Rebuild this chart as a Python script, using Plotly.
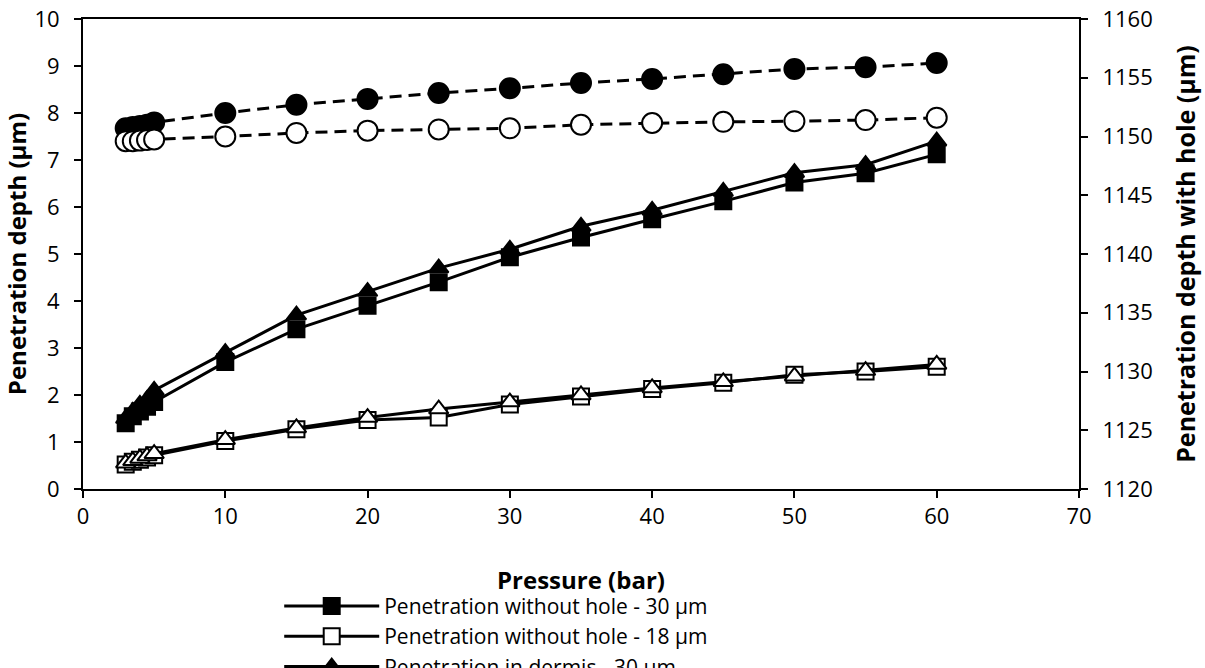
import plotly.graph_objects as go

pressure = [3, 3.5, 4, 4.5, 5, 10, 15, 20, 25, 30, 35, 40, 45, 50, 55, 60]

no_hole_30 = [1.4, 1.55, 1.65, 1.75, 1.85, 2.7, 3.4, 3.9, 4.4, 4.93, 5.35, 5.74, 6.12, 6.52, 6.72, 7.12]
no_hole_18 = [0.52, 0.58, 0.62, 0.67, 0.72, 1.02, 1.27, 1.47, 1.52, 1.8, 1.97, 2.13, 2.26, 2.43, 2.5, 2.6]
dermis_30 = [1.5, 1.65, 1.8, 1.9, 2.1, 2.9, 3.7, 4.2, 4.7, 5.1, 5.59, 5.93, 6.33, 6.73, 6.9, 7.4]
dermis_18 = [0.55, 0.6, 0.65, 0.7, 0.75, 1.05, 1.3, 1.52, 1.7, 1.85, 2.0, 2.15, 2.28, 2.4, 2.52, 2.65]
hole_30 = [1150.7, 1150.8, 1150.9, 1151.0, 1151.2, 1152.0, 1152.7, 1153.2, 1153.7, 1154.1,
           1154.55, 1154.9, 1155.3, 1155.75, 1155.9, 1156.25]
hole_18 = [1149.6, 1149.6, 1149.65, 1149.7, 1149.75, 1150.0, 1150.3, 1150.5, 1150.6, 1150.7,
           1151.0, 1151.15, 1151.25, 1151.3, 1151.4, 1151.6]

names = ["Penetration without hole - 30 µm", "Penetration without hole - 18 µm",
         "Penetration in dermis - 30 µm", "Penetration in dermis - 18 µm",
         "Penetration with hole - 30 µm", "Penetration with hole - 18 µm"]

FONT = "Open Sans"
fig = go.Figure()

def add(y, name, symbol, filled, size, dash="solid", yaxis="y", legend=True):
    fig.add_trace(go.Scatter(
        x=pressure, y=y, name=name, mode="lines+markers", yaxis=yaxis,
        showlegend=legend,
        line=dict(color="black", width=3, dash=dash),
        marker=dict(symbol=symbol, size=size,
                    color="black" if filled else "white",
                    line=dict(color="black", width=2)),
    ))

add(no_hole_30, names[0], "square", True, 16)
add(no_hole_18, names[1], "square", False, 16)
add(dermis_30, names[2], "triangle-up", True, 17)
add(dermis_18, names[3], "triangle-up", False, 17, legend=False)
add(hole_30, names[4], "circle", True, 20, dash="12px,7px", yaxis="y2", legend=False)
add(hole_18, names[5], "circle", False, 20, dash="12px,7px", yaxis="y2", legend=False)

axis_common = dict(showline=True, linecolor="black", linewidth=2, ticks="outside",
                   tickcolor="black", ticklen=7, tickwidth=2, showgrid=False,
                   zeroline=False, automargin=True, ticklabeloverflow="allow",
                   tickfont=dict(family=FONT, size=22, color="black"))
TITLE_FONT = dict(family=FONT, size=24, color="black")

fig.update_layout(
    width=1205, height=668,
    paper_bgcolor="white", plot_bgcolor="white",
    margin=dict(l=83, r=126, t=19, b=179, autoexpand=False),
    font=dict(family=FONT, color="black"),
    xaxis=dict(range=[0, 70], dtick=10, mirror=True,
               title=dict(text="<b>Pressure (bar)</b>", font=TITLE_FONT, standoff=43),
               **axis_common),
    yaxis=dict(range=[0, 10], dtick=1, ticklabelstandoff=10,
               title=dict(text="<b>Penetration depth (µm)</b>", font=TITLE_FONT, standoff=10),
               **axis_common),
    yaxis2=dict(range=[1120, 1160], dtick=5, overlaying="y", side="right", ticklabelstandoff=10,
                title=dict(text="<b>Penetration depth with hole (µm)</b>",
                           font=dict(family=FONT, size=25, color="black"), standoff=26),
                **axis_common),
    legend=dict(x=0.197, y=-0.206, xanchor="left", yanchor="top", orientation="v",
                font=dict(family=FONT, size=21), tracegroupgap=0, itemwidth=95,
                bgcolor="rgba(0,0,0,0)"),
    showlegend=True,
)

fig.write_html("out.html", config={"displayModeBar": False},
               post_script="document.body.style.margin='0px';")
